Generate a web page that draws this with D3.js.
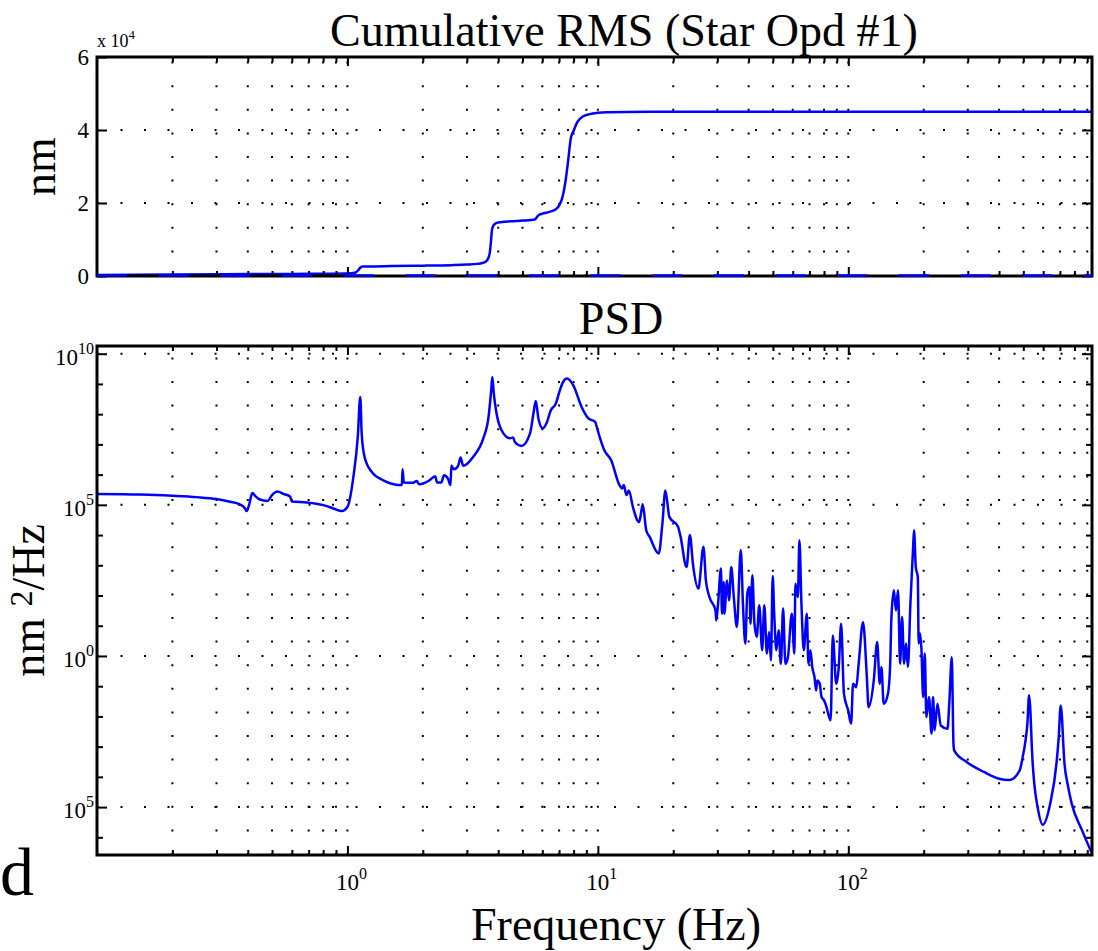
<!DOCTYPE html>
<html>
<head>
<meta charset="utf-8">
<script src="https://cdn.jsdelivr.net/npm/d3@7"></script>
<style>
    body { margin: 0; background: #fff; }
</style>
</head>
<body>
<svg id="chart" width="1098" height="951"></svg>
<script>
// cumulative RMS (nm) against frequency (Hz)
const cumFreq = [0.1, 0.2, 0.4, 0.7, 1.0, 1.08, 1.11, 1.13, 1.15, 1.2, 1.5, 2, 2.6, 3.0, 3.3, 3.5, 3.62, 3.7, 3.74, 3.78,
    3.83, 3.9, 4.0, 4.5, 5.0, 5.6, 5.7, 5.8, 6.0, 6.4, 6.8, 7.0, 7.2, 7.4, 7.6, 7.8, 8.0, 8.3, 8.7, 9.2,
    10, 11, 13, 20, 50, 200, 940];
const cumRms = [0, 150, 250, 330, 420, 700, 1500, 2100, 2300, 2350, 2450, 2550, 2700, 2850, 3050, 3400, 4100, 6000, 9000, 12500,
    13600, 14100, 14400, 14700, 14900, 15200, 15800, 16400, 16800, 17300, 18000, 19000, 21000, 25000, 31000, 37500, 39500, 42000, 43400, 44000,
    44450, 44600, 44680, 44700, 44720, 44740, 44750];

// PSD (nm^2/Hz) against frequency (Hz)
const psdFreq = [0.1, 0.15, 0.2, 0.25, 0.3, 0.34, 0.37, 0.39, 0.396, 0.405, 0.417, 0.43, 0.447, 0.48, 0.5, 0.525, 0.56, 0.59, 0.6, 0.69,
    0.8, 0.88, 0.95, 1.0, 1.056, 1.1, 1.125, 1.14, 1.17, 1.25, 1.39, 1.65, 1.66, 1.68, 1.83, 1.89, 1.93, 2.13, 2.24, 2.28,
    2.37, 2.43, 2.52, 2.58, 2.6, 2.66, 2.77, 2.83, 2.9, 3.18, 3.49, 3.66, 3.75, 3.79, 3.84, 3.94, 4.12, 4.45, 4.59, 4.66,
    4.96, 5.36, 5.53, 5.65, 5.79, 6.02, 6.23, 6.49, 6.79, 7.02, 7.25, 7.53, 7.97, 8.62, 9.17, 9.75, 9.9, 10.2, 10.6, 11.3,
    12.2, 12.5, 12.7, 13.0, 13.3, 13.8, 14.6, 14.9, 15.1, 15.6, 16.1, 17.5, 18.1, 18.6, 19.3, 20.9, 21.4, 22.6, 23.3, 24.0,
    25.2, 26.4, 27.0, 27.9, 29.5, 29.7, 30.2, 31.0, 31.3, 31.8, 32.0, 32.8, 33.4, 34.1, 34.9, 35.9, 37.2, 38.0, 38.8, 39.5,
    40.3, 40.7, 41.4, 42.2, 43.1, 44.1, 45.3, 46.2, 47.3, 48.3, 49.1, 49.9, 50.6, 51.6, 52.7, 53.8, 54.9, 56.1, 57.4, 59.5,
    60.9, 61.5, 62.9, 63.8, 65.0, 66.4, 68.3, 69.3, 70.6, 71.8, 73.3, 74.4, 75.2, 76.9, 78.2, 80.0, 81.9, 83.1, 85.0, 86.7,
    89.5, 91.6, 93.6, 96.1, 99.9, 102.6, 104.5, 107.6, 110, 114.5, 118.6, 120.5, 126.4, 130.4, 133.5, 135.6, 138.5, 144, 147, 148.5,
    152, 155, 158, 161, 164, 167, 170, 173, 177, 181.5, 183, 186, 189.5, 191, 193.5, 196, 199, 202, 205, 210,
    215, 218, 221, 227, 234, 249, 253, 259, 263, 265, 297, 348, 400, 440, 483, 497, 508, 519, 527, 545,
    553, 570, 597, 640, 680, 692, 705, 730, 755, 780, 858, 935];
const psdValue = [2.3e5, 2.2e5, 2.0e5, 1.8e5, 1.55e5, 1.26e5, 1.05e5, 7.6e4, 6.2e4, 1.0e5, 2.45e5, 1.9e5, 1.5e5, 1.35e5, 2.1e5, 2.75e5, 2.24e5, 1.9e5, 1.3e5, 1.2e5,
    9.8e4, 7.6e4, 6.2e4, 8.5e4, 8.3e5, 1.8e7, 3.7e8, 2.3e7, 3.9e6, 1.23e6, 6.5e5, 4.5e5, 1.5e6, 5.5e5, 5.4e5, 6.2e5, 4.8e5, 6.5e5, 8.9e5, 5.5e5,
    5.5e5, 9.5e5, 7.4e5, 4.5e5, 2.0e6, 1.5e6, 2.0e6, 3.7e6, 1.95e6, 3.9e6, 1.6e7, 8.1e7, 6.2e8, 1.7e9, 4.9e8, 1.05e8, 3.0e7, 1.6e7, 1.7e7, 1.2e7,
    8.9e6, 2.3e7, 1.05e8, 2.75e8, 7.2e7, 3.4e7, 4.9e7, 1.35e8, 2.2e8, 5.5e8, 1.12e9, 1.5e9, 9.1e8, 1.7e8, 7.2e7, 5.6e7, 3.8e7, 1.6e7, 6.5e6, 3.0e6,
    4.5e5, 3.5e5, 4.5e5, 2.1e5, 3.0e5, 8.5e4, 2.7e4, 5.8e4, 1.05e5, 1.45e4, 8.7e3, 2.45e3, 2.4e4, 3.0e5, 4.0e4, 1.9e4, 8.7e3, 870, 1.0e4, 1.0e3,
    170, 4.1e3, 316, 89, 32, 15, 54, 776, 25, 282, 25, 316, 69, 870, 89, 9.1, 3.2e3, 42, 2.6, 115,
    190, 11.7, 470, 11.7, 4.3, 48, 1.55, 48, 1.2, 6.2, 0.71, 440, 25, 1.55, 7.1, 0.55, 37, 0.55, 0.91, 25,
    1.2, 245, 89, 6.8e3, 54, 1.55, 25, 0.55, 1.55, 0.43, 0.2, 0.072, 0.155, 0.12, 0.044, 0.034, 0.02, 0.0123, 0.0074, 4.8,
    0.12, 0.43, 11.7, 0.056, 0.0158, 0.0058, 0.12, 0.093, 0.55, 13, 0.2, 0.02, 0.155, 2.9, 0.12, 0.43, 0.026, 0.056, 0.55, 15,
    148, 32, 148, 0.55, 19.5, 0.55, 2.6, 0.43, 54, 4.1e3, 1.45e4, 870, 407, 2.6, 5.5, 1.55, 0.044, 1.2, 0.0095, 0.044,
    0.0027, 0.044, 0.0035, 0.026, 0.005, 0.0039, 0.026, 0.91, 1.26e-3, 7.4e-4, 3.1e-4, 1.45e-4, 8.7e-5, 7.9e-5, 1.6e-4, 4.5e-4, 1.26e-3, 5.8e-3, 0.05, 2.7e-4,
    5.9e-5, 1.0e-5, 2.6e-6, 1.3e-5, 3.5e-4, 2.0e-3, 0.023, 2.7e-4, 4.6e-5, 1.3e-5, 1.7e-6, 3.2e-7];

const freqDomain = [0.1, 940];
const freqMajor = [1, 10, 100];
const freqLabels = ["0", "1", "2"];
const rmsDomain = [0, 60000];
const rmsTicks = [0, 20000, 40000, 60000];
const rmsLabels = ["0", "2", "4", "6"];
const psdDomain = [2.6e-7, 1.8e10];
const psdMajor = [1e-5, 1, 1e5, 1e10];
const psdLabels = ["5", "0", "5", "10"];

const svg = d3.select("#chart");
const left = 97, right = 1092;
const topPanel = { top: 57, bottom: 276 };
const botPanel = { top: 346, bottom: 855 };
const blue = "#0000ff";
const serif = "'Liberation Serif', 'Times New Roman', serif";

const x = d3.scaleLog().domain(freqDomain).range([left, right]);
const yRms = d3.scaleLinear().domain(rmsDomain).range([topPanel.bottom, topPanel.top]);
const yPsd = d3.scaleLog().domain(psdDomain).range([botPanel.bottom, botPanel.top]);

// minor frequency ticks 2..9 of each decade
const freqMinor = [];
[0.1, 1, 10, 100].forEach(function (dec) {
    d3.range(2, 10).forEach(function (k) {
        if (dec * k <= freqDomain[1]) freqMinor.push(dec * k);
    });
});
const psdMinor = d3.range(-6, 11).map(function (e) { return Math.pow(10, e); })
    .filter(function (d) { return psdMajor.indexOf(d) < 0; });

function addText(xPos, yPos, size, anchor) {
    return svg.append("text")
        .attr("x", xPos)
        .attr("y", yPos)
        .attr("text-anchor", anchor || "start")
        .attr("font-size", size)
        .attr("fill", "#000")
        .style("font-family", serif);
}

function dottedV(g, values, panel) {
    g.selectAll(null)
        .data(values)
        .join("line")
        .attr("x1", function (d) { return x(d); })
        .attr("x2", function (d) { return x(d); })
        .attr("y1", panel.bottom)
        .attr("y2", panel.top)
        .attr("stroke", "#000")
        .attr("stroke-width", 2)
        .attr("stroke-dasharray", "2,21.6");
}

function dottedH(g, values, yScale) {
    g.selectAll(null)
        .data(values)
        .join("line")
        .attr("x1", left)
        .attr("x2", right)
        .attr("y1", function (d) { return yScale(d); })
        .attr("y2", function (d) { return yScale(d); })
        .attr("stroke", "#000")
        .attr("stroke-width", 2)
        .attr("stroke-dasharray", "2,21.5");
}

function tickAxis(axis, transform) {
    svg.append("g")
        .attr("transform", transform)
        .call(axis)
        .call(function (g) { g.select(".domain").remove(); })
        .call(function (g) { g.selectAll(".tick line").attr("stroke", "#000").attr("stroke-width", 2); });
}

function drawFrame(panel, yScale, yMajor, yMinor) {
    tickAxis(d3.axisBottom(x).tickValues(freqMinor).tickSize(-5).tickFormat(""), `translate(0, ${panel.bottom})`);
    tickAxis(d3.axisBottom(x).tickValues(freqMajor).tickSize(-9).tickFormat(""), `translate(0, ${panel.bottom})`);
    tickAxis(d3.axisTop(x).tickValues(freqMinor).tickSize(-5).tickFormat(""), `translate(0, ${panel.top})`);
    tickAxis(d3.axisTop(x).tickValues(freqMajor).tickSize(-9).tickFormat(""), `translate(0, ${panel.top})`);
    tickAxis(d3.axisLeft(yScale).tickValues(yMajor).tickSize(-10).tickFormat(""), `translate(${left}, 0)`);
    tickAxis(d3.axisRight(yScale).tickValues(yMajor).tickSize(-10).tickFormat(""), `translate(${right}, 0)`);
    if (yMinor) {
        tickAxis(d3.axisLeft(yScale).tickValues(yMinor).tickSize(-6).tickFormat(""), `translate(${left}, 0)`);
        tickAxis(d3.axisRight(yScale).tickValues(yMinor).tickSize(-6).tickFormat(""), `translate(${right}, 0)`);
    }
    svg.append("rect")
        .attr("x", left)
        .attr("y", panel.top)
        .attr("width", right - left)
        .attr("height", panel.bottom - panel.top)
        .attr("fill", "none")
        .attr("stroke", "#000")
        .attr("stroke-width", 3);
}

// ---- top panel: cumulative RMS ----
const gTop = svg.append("g");
dottedV(gTop, freqMinor.concat(freqMajor), topPanel);
dottedH(gTop, rmsTicks.slice(1, 3), yRms);

const cumData = cumFreq.map(function (f, i) { return { f: f, v: cumRms[i] }; });
gTop.append("path")
    .datum(cumData)
    .attr("fill", "none")
    .attr("stroke", blue)
    .attr("stroke-width", 2.5)
    .attr("stroke-linejoin", "round")
    .attr("d", d3.line()
        .x(function (d) { return x(d.f); })
        .y(function (d) { return yRms(d.v) - 1; })
        .curve(d3.curveMonotoneX));

drawFrame(topPanel, yRms, rmsTicks, null);

// dashed zero line sits on the bottom edge
svg.append("line")
    .attr("x1", left)
    .attr("x2", right)
    .attr("y1", yRms(0) - 0.5)
    .attr("y2", yRms(0) - 0.5)
    .attr("stroke", blue)
    .attr("stroke-width", 2.5)
    .attr("stroke-dasharray", "30,31.7");

rmsTicks.forEach(function (d, i) {
    addText(89, yRms(d) + 8, 23, "end").text(rmsLabels[i]);
});

const expo = addText(97, 47, 18);
expo.append("tspan").text("x 10");
expo.append("tspan").attr("dy", -8).attr("font-size", 13).text("4");

addText(624, 46, 46, "middle").text("Cumulative RMS (Star Opd #1)");

addText(0, 0, 46, "middle")
    .attr("transform", `translate(55, ${(topPanel.top + topPanel.bottom) / 2}) rotate(-90)`)
    .text("nm");

// ---- bottom panel: PSD ----
const gBot = svg.append("g");
dottedV(gBot, freqMinor.concat(freqMajor), botPanel);
dottedH(gBot, psdMajor, yPsd);

const psdData = psdFreq.map(function (f, i) { return { f: f, v: psdValue[i] }; });
gBot.append("path")
    .datum(psdData)
    .attr("fill", "none")
    .attr("stroke", blue)
    .attr("stroke-width", 2.5)
    .attr("stroke-linejoin", "round")
    .attr("d", d3.line()
        .x(function (d) { return x(d.f); })
        .y(function (d) { return yPsd(d.v); })
        .curve(d3.curveMonotoneX));

drawFrame(botPanel, yPsd, psdMajor, psdMinor);

psdMajor.forEach(function (d, i) {
    const t = addText(94, yPsd(d) + 11, 23, "end");
    t.append("tspan").text("10");
    t.append("tspan").attr("dy", -11).attr("font-size", 16).text(psdLabels[i]);
});

freqMajor.forEach(function (d, i) {
    const t = addText(x(d) + 4, 890, 23, "middle");
    t.append("tspan").text("10");
    t.append("tspan").attr("dy", -11).attr("font-size", 16).text(freqLabels[i]);
});

addText(621, 334, 46, "middle").text("PSD");

addText(616, 940, 46, "middle").text("Frequency (Hz)");

const psdLabel = addText(0, 0, 46, "middle")
    .attr("transform", `translate(44, ${(botPanel.top + botPanel.bottom) / 2}) rotate(-90)`);
psdLabel.append("tspan").text("nm ");
psdLabel.append("tspan").attr("dy", -12).attr("font-size", 32).text("2");
psdLabel.append("tspan").attr("dy", 12).text("/Hz");

addText(0, 895, 68).text("d");
</script>
</body>
</html>
